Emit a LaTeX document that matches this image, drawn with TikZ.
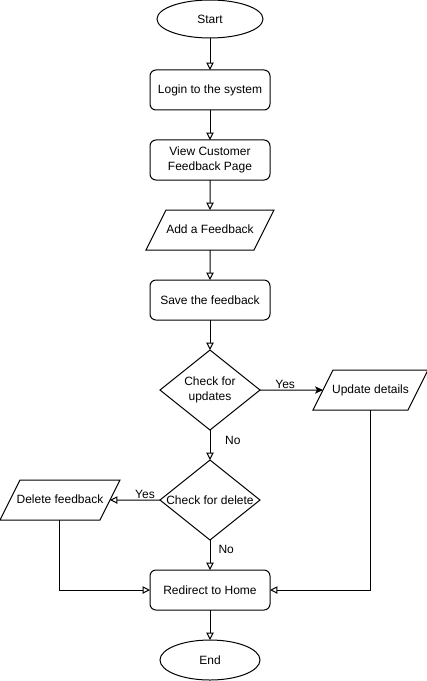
\documentclass[tikz,border=0pt]{standalone}
\usepackage{fontspec}
\setmainfont{Liberation Sans}
\usetikzlibrary{arrows.meta,positioning,shapes.geometric}
\tikzset{
  terminal/.style={draw,ellipse,minimum width=75pt,minimum height=30pt,inner sep=0pt,
    outer sep=0pt,line width=0.75pt,font=\fontsize{9}{11}\selectfont},
  process/.style={draw,rounded corners=4.5pt,align=center,minimum width=90pt,
    minimum height=30pt,inner sep=1pt,outer sep=0pt,line width=0.75pt,
    font=\fontsize{9}{11}\selectfont},
  io/.style={draw,trapezium,trapezium left angle=63.4,trapezium right angle=116.6,
    text height=7pt,text depth=2pt,inner ysep=10.5pt,inner xsep=0pt,outer sep=0pt,
    line width=0.75pt,font=\fontsize{9}{11}\selectfont},
  decision/.style={draw,diamond,minimum width=75pt,minimum height=60pt,inner sep=0pt,
    outer sep=0pt,line width=0.75pt},
  arrow/.style={-{Triangle[open,length=5.5pt,width=5.5pt]},line width=0.75pt},
  yesarrow/.style={-{Stealth[length=6pt,width=5.5pt,inset=1.5pt]},line width=0.75pt},
  labelstyle/.style={font=\fontsize{9}{11}\selectfont,inner sep=1pt,align=center}
}
\begin{document}
\begin{tikzpicture}[node distance=22.5pt]
  \useasboundingbox (-157.5pt,14.25pt) rectangle (162pt,-496.5pt);
  \node[terminal,minimum width=79.5pt,minimum height=28.5pt] (start) at (0,0) {Start};
  \node[process,below=24pt of start] (login) {Login to the system};
  \node[process,below=of login] (view) {View Customer\\Feedback Page};
  \node[io,below=of view] (add) {\makebox[66pt]{Add a Feedback}};
  \node[process,below=of add] (save) {Save the feedback};
  \node[decision,below=of save,
    label={[labelstyle]center:Check for\\updates}] (chkupd) {};
  \node[io,right=47.25pt of chkupd] (upd) {\makebox[56.25pt]{Update details}};
  \node[decision,below=of chkupd,
    label={[labelstyle]center:Check for delete}] (chkdel) {};
  \node[io,left=37.5pt of chkdel] (del) {\makebox[60pt]{Delete feedback}};
  \node[process,below=of chkdel] (home) {Redirect to Home};
  \node[terminal,below=of home] (end) {End};
  \draw[arrow] (start) -- (login);
  \draw[arrow] (login) -- (view);
  \draw[arrow] (view) -- (add);
  \draw[arrow] (add) -- (save);
  \draw[arrow] (save) -- (chkupd);
  \draw[yesarrow] (chkupd) -- node[labelstyle,above,pos=0.4] {Yes} (upd);
  \draw[arrow] (chkupd) -- node[labelstyle,right=10pt,pos=0.35] {No} (chkdel);
  \draw[arrow] (chkdel) -- node[labelstyle,above,pos=0.3] {Yes} (del);
  \draw[arrow] (chkdel) -- node[labelstyle,right=5pt,pos=0.3] {No} (home);
  \draw[arrow] (upd) |- (home);
  \draw[arrow] (del) |- (home);
  \draw[arrow] (home) -- (end);
\end{tikzpicture}
\end{document}
